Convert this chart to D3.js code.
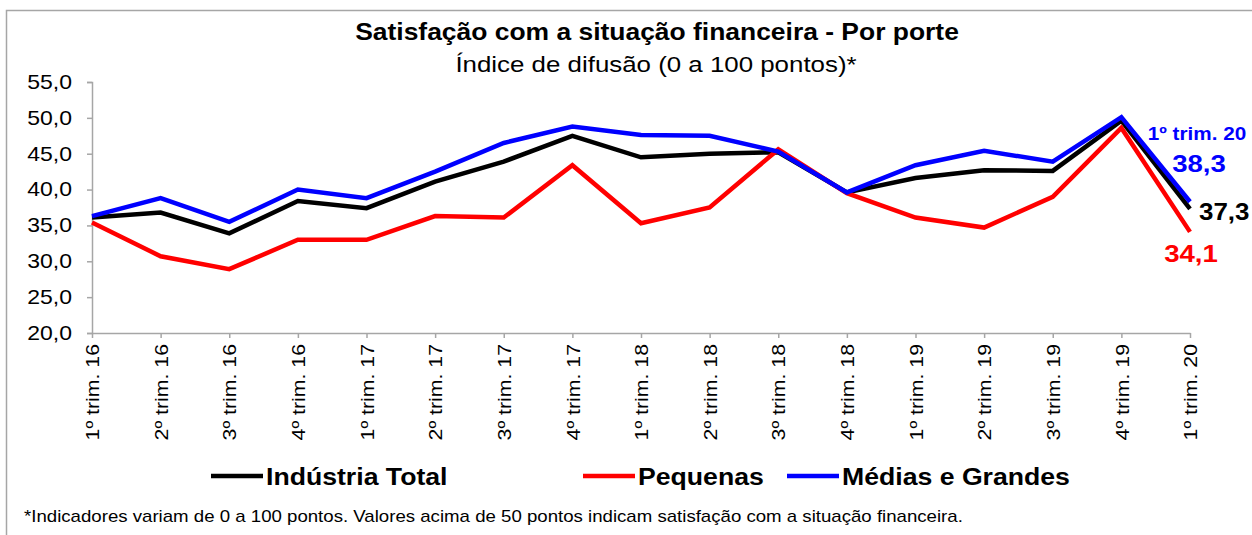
<!DOCTYPE html>
<html>
<head>
<meta charset="utf-8">
<script src="https://cdn.jsdelivr.net/npm/d3@7"></script>
<style>
  body { margin: 0; background: #fff; }
  svg { display: block; font-family: "Liberation Sans", Arial, sans-serif; }
</style>
</head>
<body>
<script>
const categories = ["1º trim. 16","2º trim. 16","3º trim. 16","4º trim. 16",
  "1º trim. 17","2º trim. 17","3º trim. 17","4º trim. 17",
  "1º trim. 18","2º trim. 18","3º trim. 18","4º trim. 18",
  "1º trim. 19","2º trim. 19","3º trim. 19","4º trim. 19","1º trim. 20"]
const industriaTotal = [36.1,36.8,33.9,38.4,37.4,41.1,43.9,47.5,44.5,45.0,45.2,39.6,41.6,42.7,42.6,49.6,37.3]
const pequenas = [35.4,30.7,28.9,33.0,33.0,36.3,36.1,43.4,35.3,37.5,45.6,39.5,36.1,34.7,39.0,48.6,34.1]
const mediasGrandes = [36.3,38.8,35.5,40.0,38.8,42.5,46.5,48.8,47.6,47.5,45.3,39.6,43.4,45.4,43.9,50.1,38.3]
const yTicks = [20,25,30,35,40,45,50,55]

const series = [
  {name: "Indústria Total", values: industriaTotal, color: "#000000"},
  {name: "Pequenas", values: pequenas, color: "#ff0000"},
  {name: "Médias e Grandes", values: mediasGrandes, color: "#0000ff"}
]

const width = 1252, height = 535
const svg = d3.select("body").append("svg")
    .attr("width", width)
    .attr("height", height)

// the source chart's type is a bit wider than Liberation Sans, so stretch it
function label(parent, px, py, str, size, opts = {}) {
  const sx = opts.sx || 1.15
  return parent.append("text")
      .attr("transform", `translate(${px},${py}) scale(${sx},1)`)
      .attr("text-anchor", opts.anchor || "start")
      .attr("font-size", size)
      .attr("font-weight", opts.bold ? "bold" : "normal")
      .attr("fill", opts.fill || "#000")
      .text(str)
}

// chart frame
svg.append("path")
    .attr("d", "M6.5,540V10.5H1260")
    .attr("fill", "none")
    .attr("stroke", "#a6a6a6")
    .attr("stroke-width", 1.5)

label(svg, 657, 40, "Satisfação com a situação financeira - Por porte", 23, {anchor: "middle", bold: true})
label(svg, 656, 72, "Índice de difusão (0 a 100 pontos)*", 22.5, {anchor: "middle"})

const x = d3.scalePoint()
    .domain(categories)
    .range([92, 1190])

const y = d3.scaleLinear()
    .domain([20, 55])
    .range([333, 82])

const fmt = v => d3.format(".1f")(v).replace(".", ",")

const yAxis = svg.append("g")
    .attr("transform", "translate(92,0)")
    .call(d3.axisLeft(y).tickValues(yTicks).tickSize(5).tickFormat(fmt))
yAxis.selectAll("path, line").attr("stroke", "#a6a6a6").attr("stroke-width", 1.5)
yAxis.selectAll("text")
    .attr("x", 0)
    .attr("transform", "translate(-20,0) scale(1.15,1)")
    .attr("font-size", 20).attr("fill", "#000")
    .attr("font-family", "Liberation Sans, Arial, sans-serif")

const xAxis = svg.append("g")
    .attr("transform", "translate(0,333)")
    .call(d3.axisBottom(x).tickSize(5).tickSizeOuter(0))
xAxis.selectAll("path, line").attr("stroke", "#a6a6a6").attr("stroke-width", 1.5)
xAxis.selectAll("text")
    .attr("font-size", 19).attr("fill", "#000")
    .attr("font-family", "Liberation Sans, Arial, sans-serif")
    .attr("transform", "rotate(-90) translate(-11,0) scale(1.12,1)")
    .attr("text-anchor", "end")
    .attr("x", 0).attr("y", 0).attr("dy", "0.35em")

const line = d3.line()
    .x((d, i) => x(categories[i]))
    .y(d => y(d))

svg.append("g").selectAll("path")
    .data(series)
    .join("path")
    .attr("fill", "none")
    .attr("stroke", d => d.color)
    .attr("stroke-width", 4.5)
    .attr("stroke-linejoin", "miter")
    .attr("d", d => line(d.values))

// end labels
const last = categories.length - 1
label(svg, 1197, 140, categories[last], 18, {anchor: "middle", bold: true, fill: "#0000ff"})
label(svg, 1199, 172, fmt(mediasGrandes[last]), 24, {anchor: "middle", bold: true, fill: "#0000ff"})
label(svg, 1199, 220, fmt(industriaTotal[last]), 24, {bold: true, sx: 1.08})
label(svg, 1191, 262, fmt(pequenas[last]), 24, {anchor: "middle", bold: true, fill: "#ff0000"})

// legend
const legendX = [211, 583, 787]
const legend = svg.append("g")
    .selectAll("g")
    .data(series)
    .join("g")
    .attr("transform", (d, i) => `translate(${legendX[i]},476)`)
legend.append("line")
    .attr("x1", 0).attr("x2", 52)
    .attr("stroke", d => d.color)
    .attr("stroke-width", 4.5)
legend.each(function(d) {
  label(d3.select(this), 55, 9, d.name, 24, {bold: true, sx: 1.11})
})

label(svg, 24, 522, "*Indicadores variam de 0 a 100 pontos. Valores acima de 50 pontos indicam satisfação com a situação financeira.", 16, {sx: 1.165})
</script>
</body>
</html>
